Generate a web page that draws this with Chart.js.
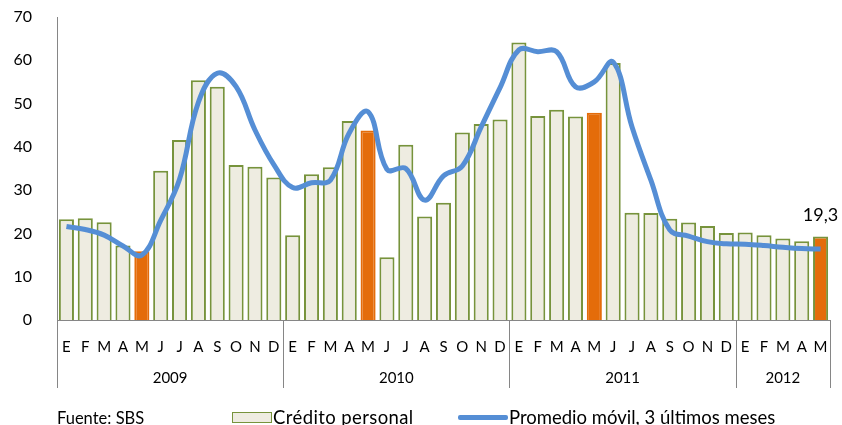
<!DOCTYPE html>
<html>
<head>
<meta charset="utf-8">
<script src="https://cdn.jsdelivr.net/npm/chart.js@4/dist/chart.umd.min.js"></script>
<style>
  body { margin: 0; background: #fff; font-family: Lato, 'Open Sans', sans-serif; }
  #wrap { position: relative; width: 842px; height: 425px; }
  .leg { position: absolute; top: 407px; font-size: 18.5px; color: #000; white-space: nowrap; line-height: 20px; }
  .box { position: absolute; top: 412px; left: 232px; width: 38px; height: 9px; background: #eeece1; border: 1.5px solid #77933c; }
  .ln { position: absolute; top: 415px; left: 458px; width: 50px; height: 5px; background: #558ed5; border-radius: 2px; }
</style>
</head>
<body>
<div id="wrap">
  <canvas id="chart" width="842" height="425"></canvas>
  <div class="leg" style="left:57px; font-size:16.5px; top:408px">Fuente: SBS</div>
  <div class="box"></div>
  <div class="leg" style="left:273px; letter-spacing:0.4px">Crédito personal</div>
  <div class="ln"></div>
  <div class="leg" style="left:509px">Promedio móvil, 3 últimos meses</div>
</div>
<script>
const labels = [
  'E', 'F', 'M', 'A', 'M', 'J', 'J', 'A', 'S', 'O', 'N', 'D',
  'E', 'F', 'M', 'A', 'M', 'J', 'J', 'A', 'S', 'O', 'N', 'D',
  'E', 'F', 'M', 'A', 'M', 'J', 'J', 'A', 'S', 'O', 'N', 'D',
  'E', 'F', 'M', 'A', 'M'
];
const years = ['2009', '2010', '2011', '2012'];
const yearMonths = [12, 12, 12, 5];

const credito = [
  23.3, 23.5, 22.6, 17.2, 15.9, 34.5, 41.6, 55.4, 53.9, 35.8, 35.4, 32.9,
  19.6, 33.7, 35.3, 46.0, 43.8, 14.5, 40.5, 23.9, 27.1, 43.3, 45.3, 46.3,
  64.1, 47.1, 48.6, 47.0, 47.9, 59.4, 24.8, 24.7, 23.4, 22.5, 21.7, 20.1,
  20.2, 19.6, 18.8, 18.2, 19.3
];
const promedio = [
  21.6, 20.9, 19.6, 17.1, 15.0, 23.0, 32.5, 50.3, 57.0, 53.9, 43.9, 35.9,
  30.6, 31.7, 32.3, 43.2, 48.1, 34.8, 35.0, 27.7, 33.3, 35.6, 44.6, 53.7,
  62.4, 62.0, 62.0, 53.9, 55.0, 59.6, 44.6, 32.3, 20.8, 19.4, 18.1, 17.6,
  17.5, 17.2, 16.8, 16.5, 16.4
];
// months highlighted in orange (mayo)
const highlight = [4, 16, 28, 40];
const lastLabel = '19,3';

const beige = '#eeece1';
const green = '#77933c';
const orange = '#e46c0a';
const blue = '#558ed5';
const axisGray = '#868686';

const barFill = credito.map((v, i) => (highlight.includes(i) ? orange : beige));
const barBorder = credito.map((v, i) => (highlight.includes(i) && i !== 40 ? orange : green));

const yearAxis = {
  id: 'yearAxis',
  afterDraw(chart) {
    const ctx = chart.ctx;
    const x = chart.scales.x;
    const y0 = chart.chartArea.bottom;
    const step = (x.right - x.left) / labels.length;
    ctx.save();
    ctx.strokeStyle = axisGray;
    ctx.lineWidth = 1;
    ctx.fillStyle = '#000';
    ctx.font = '15px Lato, sans-serif';
    ctx.textAlign = 'center';
    ctx.textBaseline = 'middle';
    let start = 0;
    const edges = [x.left];
    years.forEach((yr, k) => {
      const a = x.left + start * step;
      const b = x.left + (start + yearMonths[k]) * step;
      edges.push(b);
      ctx.fillText(yr, (a + b) / 2, 378);
      start += yearMonths[k];
    });
    edges.forEach((ex) => {
      const px = Math.round(ex) + 0.5;
      ctx.beginPath();
      ctx.moveTo(px, y0);
      ctx.lineTo(px, 388);
      ctx.stroke();
    });
    // value label on last bar
    const meta = chart.getDatasetMeta(1);
    const bar = meta.data[credito.length - 1];
    ctx.font = '18px Lato, sans-serif';
    ctx.textBaseline = 'alphabetic';
    ctx.fillText(lastLabel, bar.x, bar.y - 15);
    ctx.restore();
  }
};

new Chart(document.getElementById('chart'), {
  type: 'bar',
  data: {
    labels,
    datasets: [
      {
        type: 'line',
        label: 'Promedio móvil, 3 últimos meses',
        data: promedio,
        borderColor: blue,
        borderWidth: 5,
        pointRadius: 0,
        tension: 0.4,
        fill: false,
        order: 0
      },
      {
        label: 'Crédito personal',
        data: credito,
        backgroundColor: barFill,
        borderColor: barBorder,
        borderWidth: 2,
        barPercentage: 0.8,
        categoryPercentage: 1,
        order: 1
      }
    ]
  },
  options: {
    responsive: false,
    animation: false,
    layout: { padding: { top: 17, right: 12, left: 0, bottom: 0 } },
    plugins: { legend: { display: false }, tooltip: { enabled: false } },
    scales: {
      x: {
        grid: { display: false },
        border: { color: axisGray },
        ticks: {
          color: '#000',
          font: { family: 'Lato', size: 15 },
          maxRotation: 0,
          autoSkip: false,
          padding: 10
        },
        afterFit: (s) => { s.height = 105; s.paddingLeft = 0; s.paddingRight = 0; }
      },
      y: {
        min: 0,
        max: 70,
        grid: { display: false },
        border: { color: axisGray },
        ticks: {
          stepSize: 10,
          color: '#000',
          font: { family: 'Lato', size: 16 },
          padding: 17
        },
        afterFit: (s) => { s.width = 57; s.paddingTop = 0; s.paddingBottom = 0; }
      }
    }
  },
  plugins: [yearAxis]
});
</script>
</body>
</html>
